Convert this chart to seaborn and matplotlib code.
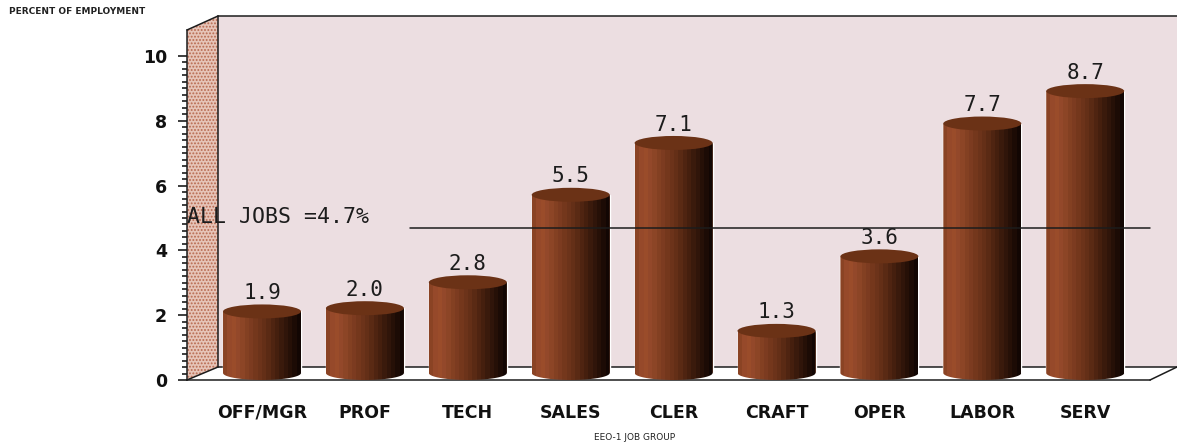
"""
Porcentaje de empleo por grupo de trabajo EEO-1, con cilindros estilo 3D.
"""
import numpy as np
import pandas as pd
import matplotlib
matplotlib.use("Agg")
import matplotlib.pyplot as plt
import seaborn as sns
from matplotlib.colors import ListedColormap
from matplotlib.patches import Ellipse, Polygon
from matplotlib.lines import Line2D
from matplotlib.ticker import FixedLocator
from matplotlib.transforms import Affine2D

grupos = ['OFF/MGR', 'PROF', 'TECH', 'SALES', 'CLER', 'CRAFT', 'OPER', 'LABOR', 'SERV']
valores = [1.9, 2.0, 2.8, 5.5, 7.1, 1.3, 3.6, 7.7, 8.7]
total_empleos = 4.7
ticks_y = [0, 2, 4, 6, 8, 10]

ANCHO, ALTO = 1177, 447
FUENTE = 'DejaVu Sans Mono'
TINTA = '#1c1c1c'

sns.set_theme(style="white")
plt.rcParams['font.family'] = ['DejaVu Sans']
plt.rcParams['hatch.linewidth'] = 0.9

fig = plt.figure(figsize=(ANCHO / 100, ALTO / 100), dpi=100, facecolor='white')

# El eje cubre desde la pared izquierda hasta el borde derecho
ax = fig.add_axes([187 / ANCHO, (ALTO - 380) / ALTO, 990 / ANCHO, 364 / ALTO])
ax.patch.set_alpha(0)

# Paredes del fondo en pixeles (y invertida respecto a la imagen)
pixeles = Affine2D().scale(1, -1).translate(0, ALTO)


def pared(puntos, **kwargs):
    fig.add_artist(Polygon(puntos, closed=True, transform=pixeles, zorder=-2, **kwargs))


def linea(xs, ys, **kwargs):
    fig.add_artist(Line2D(xs, ys, transform=pixeles, color=TINTA, lw=1.1, zorder=-1, **kwargs))


pared([(218, 16), (1177, 16), (1177, 367), (218, 367)], facecolor='#ecdee1', edgecolor='none')
pared([(187, 30), (218, 16), (218, 367), (187, 380)], facecolor='#e6c4b8', edgecolor='#b8694f', hatch='.....', lw=0)
linea([218, 1177], [16, 16])
linea([218, 218], [16, 367])
linea([187, 218], [30, 16])
linea([187, 218], [380, 367])
linea([218, 1177], [367, 367])
linea([1150, 1177], [380, 367])

# Cilindros
df = pd.DataFrame({'grupo': grupos, 'valor': valores})
alto_elipse = 14 / 32.4
base = alto_elipse / 2
sns.barplot(data=df, x='grupo', y='valor', bottom=base, width=0.758, color='#7a3a1c',
            saturation=1, ax=ax, zorder=2)

cilindro = ListedColormap(['#8a4324', '#96492a', '#9a4c2a', '#93482a', '#8c4526', '#834022',
                           '#7c3b20', '#74371c', '#6c331a', '#642f17', '#5a2a14', '#4f2411',
                           '#451f0e', '#3a1a0c', '#30150a', '#261007', '#1c0b05', '#120603'])
degradado = np.linspace(0, 1, 18).reshape(1, -1)

for barra, valor in zip(list(ax.patches), valores):
    x0 = barra.get_x()
    ancho = barra.get_width()
    centro = x0 + ancho / 2
    tope = valor + base

    # La barra de seaborn queda debajo; encima va el degradado recortado al cilindro
    t = np.linspace(np.pi, 2 * np.pi, 40)
    arco = np.column_stack([centro + ancho / 2 * np.cos(t), base + base * np.sin(t)])
    contorno = np.vstack([arco, [x0 + ancho, tope], [x0, tope]])
    imagen = ax.imshow(degradado, cmap=cilindro, aspect='auto', zorder=3,
                       extent=(x0, x0 + ancho, 0, tope))
    imagen.set_clip_path(Polygon(contorno, transform=ax.transData))

    ax.add_patch(Ellipse((centro, tope), ancho, alto_elipse, facecolor='#6b3216',
                         edgecolor='none', zorder=4, clip_on=False))
    ax.annotate(f'{valor:.1f}', (centro, tope + base), xytext=(0, 1), textcoords='offset points',
                ha='center', va='bottom', family=FUENTE, fontsize=15, color=TINTA, zorder=6)

# Linea de referencia del total
ax.plot([(410 - 262) / 102.9, (1150 - 262) / 102.9], [total_empleos, total_empleos],
        color=TINTA, lw=1.1, zorder=5)
ax.text(-0.729, total_empleos + 0.02, f'ALL JOBS ={total_empleos}%', ha='left', va='bottom',
        family=FUENTE, fontsize=15.5, color=TINTA, zorder=6)

ax.set_xlim(-0.729, 8.892)
ax.set_ylim(0, 364 / 32.4)

# Ejes
for lado in ['top', 'right']:
    ax.spines[lado].set_visible(False)
ax.spines['left'].set_bounds(0, 350 / 32.4)
ax.spines['bottom'].set_bounds(-0.729, (1150 - 262) / 102.9)
for lado in ['left', 'bottom']:
    ax.spines[lado].set_color(TINTA)
    ax.spines[lado].set_linewidth(1.1)

ax.set_yticks(ticks_y)
ax.yaxis.set_minor_locator(FixedLocator(np.arange(0, 10, 0.2)))
ax.tick_params(axis='y', which='major', left=True, length=6.5, width=1.2, color=TINTA, pad=8)
ax.tick_params(axis='y', which='minor', left=True, length=3.5, width=1.2, color=TINTA)
ax.tick_params(axis='x', length=0, pad=17)
ax.set_xlabel('')
ax.set_ylabel('')
for etiqueta in ax.get_yticklabels() + ax.get_xticklabels():
    etiqueta.set_family('DejaVu Sans')
    etiqueta.set_fontweight('bold')
    etiqueta.set_fontsize(12.5)
    etiqueta.set_color('#111111')

fig.text(9 / ANCHO, 1 - 11 / ALTO, 'PERCENT OF EMPLOYMENT', ha='left', va='center',
         fontsize=6.5, fontweight='bold', color='#222222')
fig.text(635 / ANCHO, 1 - 437 / ALTO, 'EEO-1 JOB GROUP', ha='center', va='center',
         fontsize=6.5, color='#222222')

fig.savefig('out.png', dpi=100)
plt.close(fig)
